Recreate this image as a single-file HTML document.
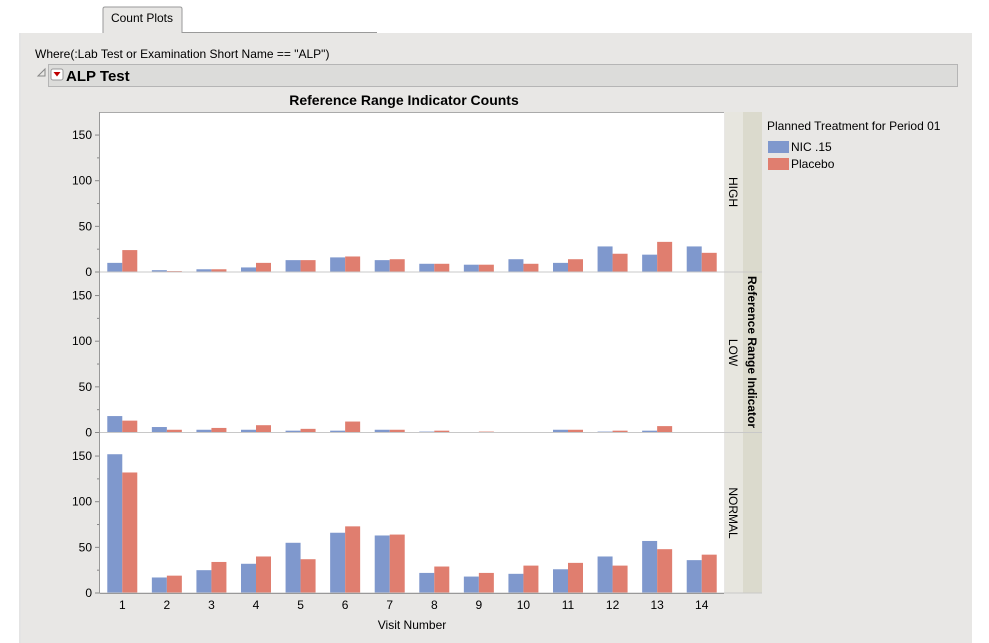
<!DOCTYPE html>
<html><head><meta charset="utf-8"><style>
body{margin:0;background:#fff;font-family:"Liberation Sans",sans-serif;}
svg{display:block}
text{font-family:"Liberation Sans",sans-serif;}
</style></head><body>
<svg id="c" width="989" height="643" xmlns="http://www.w3.org/2000/svg">
<rect x="21" y="33" width="951" height="610" fill="#e8e7e5"/>
<line x1="20" y1="33" x2="20" y2="643" stroke="#c8c8c8"/>
<path d="M103,33 V9 Q103,7 105,7 H180 Q182,7 182,9 V33" fill="#e8e7e5" stroke="#9a9a9a"/>
<line x1="182" y1="32.5" x2="377" y2="32.5" stroke="#9a9a9a"/>
<text x="142" y="22" font-size="12" text-anchor="middle" fill="#000">Count Plots</text>
<text x="35" y="58" font-size="12" fill="#000">Where(:Lab Test or Examination Short Name == "ALP")</text>
<rect x="48.5" y="64.5" width="909" height="22" fill="#dcdcda" stroke="#b5b5b5"/>
<path d="M38,76 L45,69 L45,76 Z" fill="none" stroke="#888"/>
<rect x="51" y="69" width="12" height="11" rx="2" fill="#fff" stroke="#999"/>
<path d="M53.5,72 L60.5,72 L57,76.5 Z" fill="#c00000"/>
<text x="66" y="81" font-size="15" font-weight="bold" fill="#000">ALP Test</text>
<text x="404" y="105" font-size="14" font-weight="bold" text-anchor="middle" fill="#000">Reference Range Indicator Counts</text>
<rect x="725" y="112" width="18" height="481" fill="#e7e6df"/>
<rect x="743" y="112" width="19" height="481" fill="#dbdacd"/>
<text transform="translate(748,352) rotate(90)" font-size="12" font-weight="bold" text-anchor="middle" fill="#000">Reference Range Indicator</text>
<text x="767" y="130" font-size="12" fill="#000">Planned Treatment for Period 01</text>
<rect x="768" y="141" width="21" height="12" fill="#7f98cd"/>
<text x="791" y="151" font-size="12" fill="#000">NIC .15</text>
<rect x="768" y="158" width="21" height="12" fill="#e07e6f"/>
<text x="791" y="168" font-size="12" fill="#000">Placebo</text>
<text x="412" y="629" font-size="12" text-anchor="middle" fill="#000">Visit Number</text>
<g id="plot"></g>
</svg>
<script>
const visits=[1,2,3,4,5,6,7,8,9,10,11,12,13,14];
const panels=["HIGH","LOW","NORMAL"];
const yTicks=[0,50,100,150];
const highNic=[10,2,3,5,13,16,13,9,8,14,10,28,19,28];
const highPlacebo=[24,1,3,10,13,17,14,9,8,9,14,20,33,21];
const lowNic=[18,6,3,3,2,2,3,1,0,0,3,1,2,0];
const lowPlacebo=[13,3,5,8,4,12,3,2,1,0,3,2,7,0];
const normalNic=[152,17,25,32,55,66,63,22,18,21,26,40,57,36];
const normalPlacebo=[132,19,34,40,37,73,64,29,22,30,33,30,48,42];
const seriesData=[[highNic,highPlacebo],[lowNic,lowPlacebo],[normalNic,normalPlacebo]];
const NS="http://www.w3.org/2000/svg";
const g=document.getElementById('plot');
const L=100,R=724,panelTops=[112,272.5,433],panelH=160;
const step=(R-L)/visits.length;
const bw=15;
function xc(i){return L+step*(i+0.5);}
function mk(t,a){const e=document.createElementNS(NS,t);for(const k in a)e.setAttribute(k,a[k]);g.appendChild(e);return e;}
panels.forEach((p,pi)=>{
  const top=panelTops[pi],base=top+panelH;
  const y=v=>base-v*0.913;
  const bg=mk('rect',{x:L,y:top,width:R-L,height:panelH,fill:'#fff'});
  
  
  const cols=['#7f98cd','#e07e6f'];const names=['nic','placebo'];
  seriesData[pi].forEach((arr,si)=>{
    arr.forEach((v,i)=>{
      if(v<=0)return;
      const r=mk('rect',{x:xc(i)-bw+si*bw,y:y(v),width:bw,height:base-y(v),fill:cols[si]});
      
      
    });
  });
  const bl=mk('line',{x1:L,x2:R+38,y1:base,y2:base,stroke:'#c8c8c8'});
  
  
  for(let v=0;v<=150;v+=25){
    const major=v%50===0;
    const tk=mk('line',{x1:L-(major?5:3),x2:L,y1:y(v),y2:y(v),stroke:'#888'});
    
    
  }
  yTicks.forEach(v=>{
    const t=mk('text',{x:L-8,y:y(v)+4,'font-size':12,'text-anchor':'end',fill:'#000'});
    t.textContent=v;
    
    
  });
  const st=mk('text',{transform:`translate(729,${top+panelH/2}) rotate(90)`,'font-size':12,'text-anchor':'middle',fill:'#000'});
  st.textContent=p;
  
  
});
const ax=mk('line',{x1:L-0.5,x2:L-0.5,y1:112,y2:593,stroke:'#999'});


const tp=mk('line',{x1:L,x2:R,y1:112.5,y2:112.5,stroke:'#aaa'});


const xa=mk('line',{x1:L,x2:R,y1:593.5,y2:593.5,stroke:'#999'});


visits.forEach((v,i)=>{
  const t=mk('text',{x:xc(i),y:609,'font-size':12,'text-anchor':'middle',fill:'#000'});
  t.textContent=v;
  
  
});
</script>
</body></html>
